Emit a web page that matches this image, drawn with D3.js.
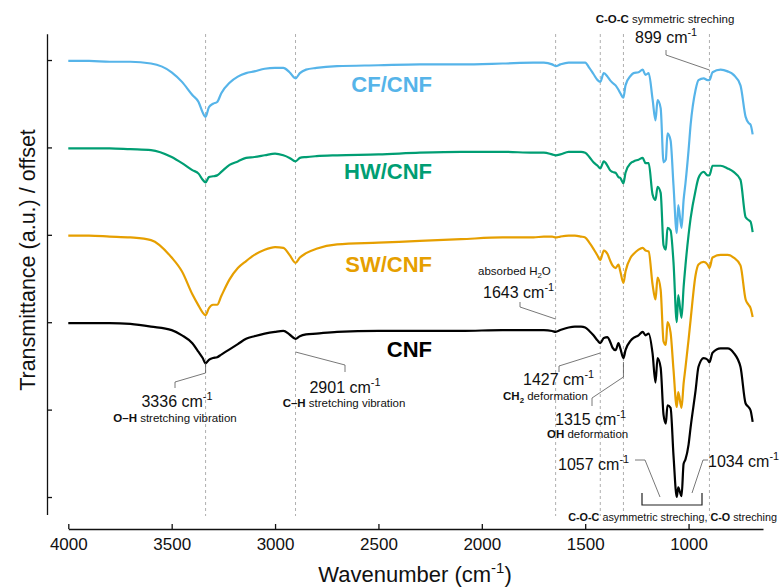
<!DOCTYPE html>
<html>
<head>
<meta charset="utf-8">
<script src="https://cdn.jsdelivr.net/npm/d3@7"></script>
<style>
  body{margin:0;background:#fff;}
  svg{font-family:Arial,"Liberation Sans",sans-serif;}
</style>
</head>
<body>
<div id="ftir"></div>
<script>
// wavenumber grid (cm-1) shared by all spectra
var wavenumbers=[4000,3900,3800,3700,3600,3500,3450,3400,3370,3350,
	3336,3320,3300,3280,3260,3220,3180,3140,3100,3050,
	3000,2960,2930,2901,2880,2850,2800,2700,2500,2300,
	2100,1900,1750,1700,1660,1643,1620,1580,1550,1520,
	1500,1480,1460,1440,1427,1410,1392,1380,1368,1353,
	1339,1330,1315,1305,1280,1266,1242,1222,1208,1193,
	1174,1160,1150,1135,1121,1110,1102,1087,1073,1057,
	1050,1034,1024,1015,1000,990,966,952,927,908,
	899,884,845,811,782,749,724,710,700,690];

// transmittance (a.u.) relative to each offset
var cnf=[-0.01,-0.01,-0.01,-0.02,-0.05,-0.09,-0.15,-0.24,-0.34,-0.41,
	-0.47,-0.43,-0.41,-0.40,-0.37,-0.31,-0.25,-0.19,-0.16,-0.13,
	-0.11,-0.10,-0.14,-0.19,-0.16,-0.14,-0.13,-0.11,-0.10,-0.10,
	-0.10,-0.09,-0.09,-0.09,-0.10,-0.11,-0.09,-0.06,-0.05,-0.05,
	-0.06,-0.10,-0.15,-0.21,-0.24,-0.18,-0.17,-0.22,-0.29,-0.32,
	-0.24,-0.30,-0.41,-0.32,-0.21,-0.18,-0.15,-0.11,-0.15,-0.13,
	-0.36,-0.69,-0.41,-0.52,-1.06,-1.16,-0.95,-0.98,-1.52,-2.00,
	-1.89,-1.99,-1.62,-1.57,-1.40,-1.20,-0.78,-0.51,-0.41,-0.43,
	-0.46,-0.35,-0.30,-0.30,-0.35,-0.51,-0.93,-0.97,-1.01,-1.14];

var sw=[-0.01,-0.01,-0.02,-0.03,-0.06,-0.26,-0.42,-0.68,-0.81,-0.89,
	-0.92,-0.84,-0.80,-0.80,-0.70,-0.51,-0.38,-0.30,-0.23,-0.17,
	-0.14,-0.15,-0.23,-0.32,-0.26,-0.21,-0.16,-0.11,-0.09,-0.07,
	-0.05,-0.03,-0.03,-0.02,-0.02,-0.03,-0.02,-0.01,-0.01,-0.02,
	-0.03,-0.09,-0.16,-0.24,-0.29,-0.18,-0.22,-0.29,-0.35,-0.38,
	-0.34,-0.42,-0.55,-0.42,-0.26,-0.22,-0.17,-0.15,-0.18,-0.19,
	-0.57,-0.74,-0.49,-0.63,-1.22,-1.26,-1.00,-1.12,-1.54,-1.97,
	-1.80,-1.98,-1.70,-1.52,-1.20,-0.97,-0.46,-0.34,-0.31,-0.34,
	-0.38,-0.26,-0.23,-0.23,-0.26,-0.35,-0.74,-0.80,-0.84,-0.94];

var hw=[-0.01,-0.01,-0.01,-0.02,-0.03,-0.11,-0.18,-0.26,-0.30,-0.37,
	-0.40,-0.34,-0.33,-0.32,-0.28,-0.20,-0.16,-0.12,-0.11,-0.09,
	-0.07,-0.09,-0.12,-0.16,-0.12,-0.11,-0.10,-0.09,-0.08,-0.06,
	-0.05,-0.05,-0.06,-0.06,-0.08,-0.09,-0.08,-0.05,-0.05,-0.05,
	-0.06,-0.11,-0.17,-0.21,-0.24,-0.16,-0.21,-0.26,-0.28,-0.29,
	-0.34,-0.35,-0.41,-0.29,-0.18,-0.16,-0.14,-0.12,-0.18,-0.18,
	-0.54,-0.60,-0.45,-0.52,-1.12,-1.17,-0.92,-0.95,-1.31,-2.00,
	-1.69,-1.95,-1.60,-1.35,-1.00,-0.81,-0.49,-0.35,-0.28,-0.32,
	-0.32,-0.21,-0.21,-0.24,-0.28,-0.37,-0.80,-0.83,-0.85,-0.97];

var cf=[-0.01,-0.01,-0.02,-0.02,-0.04,-0.14,-0.25,-0.40,-0.48,-0.60,
	-0.65,-0.54,-0.50,-0.48,-0.38,-0.26,-0.19,-0.15,-0.13,-0.10,
	-0.09,-0.09,-0.14,-0.21,-0.15,-0.11,-0.09,-0.07,-0.06,-0.05,
	-0.05,-0.04,-0.03,-0.03,-0.05,-0.07,-0.05,-0.03,-0.03,-0.03,
	-0.03,-0.09,-0.16,-0.23,-0.25,-0.15,-0.19,-0.23,-0.26,-0.29,
	-0.34,-0.38,-0.43,-0.29,-0.18,-0.15,-0.14,-0.11,-0.17,-0.15,
	-0.45,-0.69,-0.46,-0.55,-1.17,-1.14,-0.84,-0.92,-1.43,-1.98,
	-1.66,-1.92,-1.60,-1.41,-1.03,-0.74,-0.34,-0.23,-0.21,-0.23,
	-0.23,-0.14,-0.11,-0.13,-0.17,-0.29,-0.65,-0.72,-0.74,-0.85];

var muestras=["CNF","SW/CNF","HW/CNF","CF/CNF"];
var offsets=[2,3,4,5];
var colores=["#000000","#E69F00","#009E73","#56B4E9"];
var espectros=[cnf,sw,hw,cf];
var bandas=[3336,2901,1643,1427,1315,899]; // dashed guide lines
var xTicks=[4000,3500,3000,2500,2000,1500,1000];
var yTicks=[0,1,2,3,4,5];

dibujar();
function dibujar(){
	var ancho=780, alto=588;
	var svg=d3.select("#ftir").append("svg")
		.attr("width",ancho).attr("height",alto);

	var x=d3.scaleLinear().domain([4000,640]).range([68.3,763]);
	var y=d3.scaleLinear().domain([-0.2,5.3]).range([514.5,33.8]);

	// guides
	svg.selectAll(".guia").data(bandas).enter().append("line")
		.attr("class","guia")
		.attr("x1",d=>x(d)).attr("x2",d=>x(d))
		.attr("y1",34).attr("y2",516)
		.style("stroke","#9a9a9a").style("stroke-width",0.8)
		.style("stroke-dasharray","3 3");

	// axes
	var ejeY=svg.append("g").attr("transform","translate(47,0)")
		.call(d3.axisLeft(y).tickValues(yTicks).tickSize(-5).tickSizeOuter(0).tickFormat(""));
	var ejeX=svg.append("g").attr("transform","translate(0,529)")
		.call(d3.axisBottom(x).tickValues(xTicks).tickSize(-5).tickSizeOuter(0)
			.tickPadding(9).tickFormat(d3.format("d")));
	[ejeY,ejeX].forEach(function(g){
		g.selectAll("path,line").style("stroke","#111").style("stroke-width",1.3);
	});
	ejeX.selectAll("text").style("font-size","17px").style("fill","#111")
		.style("font-family","Arial, 'Liberation Sans', sans-serif");

	// spectra
	var linea=d3.line().curve(d3.curveMonotoneX);
	espectros.forEach(function(s,i){
		var pts=wavenumbers.map((w,j)=>[x(w),y(offsets[i]+s[j])]);
		svg.append("path").attr("d",linea(pts))
			.style("fill","none").style("stroke",colores[i])
			.style("stroke-width",2.2).style("stroke-linejoin","round");
	});

	// sample labels
	var labelY=[357,272,179,92];
	muestras.forEach(function(m,i){
		svg.append("text").attr("x",432).attr("y",labelY[i])
			.attr("text-anchor","end")
			.style("font-size","22px").style("font-weight","bold")
			.style("fill",colores[i]).text(m);
	});

	// helper for rich text
	function texto(px,py,anchor,size,partes){
		var t=svg.append("text").attr("x",px).attr("y",py)
			.attr("text-anchor",anchor).style("font-size",size+"px").style("fill","#111");
		var shift=0;
		partes.forEach(function(p){
			var target=p.sup?-0.42*size:(p.sub?0.3*size:0);
			var sp=t.append("tspan").text(p.t).attr("dy",target-shift);
			shift=target;
			if(p.sup||p.sub) sp.style("font-size",(size*0.68)+"px");
			if(p.b) sp.style("font-weight","bold");
		});
		return t;
	}
	function cm(n){return [{t:n+" cm"},{t:"-1",sup:true}];}

	texto(665,23,"middle",11.5,[{t:"C-O-C",b:true},{t:" symmetric streching"}]);
	texto(635,43,"start",16,cm("899"));
	texto(478,275,"start",11.5,[{t:"absorbed H"},{t:"2",sub:true},{t:"O"}]);
	texto(483,298,"start",16,cm("1643"));
	texto(523,385,"start",16,cm("1427"));
	texto(503,400,"start",11.5,[{t:"CH",b:true},{t:"2",sub:true,b:true},{t:" deformation"}]);
	texto(555,425,"start",16,cm("1315"));
	texto(547,438,"start",11.5,[{t:"OH",b:true},{t:" deformation"}]);
	texto(558,470,"start",16,cm("1057"));
	texto(708,467,"start",16,cm("1034"));
	texto(777,521,"end",10.8,[{t:"C-O-C",b:true},{t:" asymmetric streching, "},{t:"C-O",b:true},{t:" streching"}]);
	texto(177,407,"middle",16,cm("3336"));
	texto(175,422,"middle",11.5,[{t:"O\u2013H",b:true},{t:" stretching vibration"}]);
	texto(345,393,"middle",16,cm("2901"));
	texto(344,407,"middle",11.5,[{t:"C\u2013H",b:true},{t:" stretching vibration"}]);

	// leader lines
	var guias=[
		[[666,50],[666,55],[x(899),70]],
		[[520,302],[520,307],[x(1643),319]],
		[[559,372],[559,366],[x(1427),353]],
		[[592,406],[592,398],[x(1315),377],[x(1315),362]],
		[[635,460],[645,460],[660,497]],
		[[692,493],[703,460],[708,460]],
		[[175,388],[175,382],[x(3336),373],[x(3336),363]],
		[[x(2901),352],[345,365],[345,372]]
	];
	var l2=d3.line();
	guias.forEach(function(g){
		svg.append("path").attr("d",l2(g)).style("fill","none")
			.style("stroke","#555").style("stroke-width",0.8);
	});
	// bracket
	svg.append("path").attr("d",l2([[642,493],[642,505],[702,505],[702,493]]))
		.style("fill","none").style("stroke","#222").style("stroke-width",1.2);

	// axis titles
	texto(415,582,"middle",22,[{t:"Wavenumber (cm"},{t:"-1",sup:true},{t:")"}]);
	svg.append("text").attr("transform","translate(35,260) rotate(-90)")
		.attr("text-anchor","middle").style("font-size","21.5px").style("fill","#111")
		.text("Transmittance (a.u.) / offset");
}
</script>
</body>
</html>
